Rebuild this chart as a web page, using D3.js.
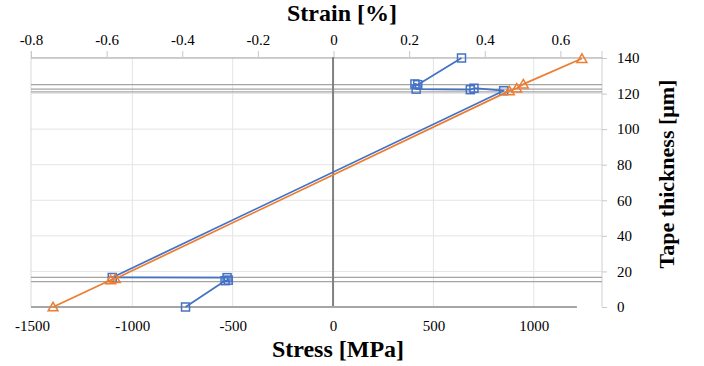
<!DOCTYPE html>
<html lang="en">
<head>
    <meta charset="utf-8">
    <title>Stress / strain through tape thickness</title>
    <script src="https://d3js.org/d3.v7.min.js"></script>
    <style>
        body { margin: 0; background: #fff; }
        svg text { font-family: 'Liberation Serif', 'Times New Roman', Times, 'DejaVu Serif', serif; fill: #000; }
    </style>
</head>
<body>
<div id="chart"></div>
<script>
    const serif = "'Liberation Serif', 'Times New Roman', Times, 'DejaVu Serif', serif";

    // tick values
    const stressTicks = [-1500, -1000, -500, 0, 500, 1000];
    const strainTicks = [-0.8, -0.6, -0.4, -0.2, 0, 0.2, 0.4, 0.6];
    const thickTicks = [0, 20, 40, 60, 80, 100, 120, 140];

    // layer interfaces (um)
    const interfaces = [140, 125, 122.5, 121, 16.7, 14.3];

    // series 1 (blue squares): stress [MPa] vs thickness [um]
    const blueStress = [640, 422, 408, 414, 684, 702, 850, -1100, -528, -522, -538, -735];
    const blueThick  = [140, 125, 125.4, 122.5, 122.2, 123, 121.6, 16.6, 16.5, 15.1, 14.8, 0];

    // series 2 (orange triangles)
    const orangeStress = [1240, 948, 915, 878, -1085, -1108, -1395];
    const orangeThick  = [139.7, 125.3, 123, 121.5, 15.9, 15.2, 0];

    const width = 704, height = 366;
    const pLeft = 31, pRight = 602, pTop = 57, pBottom = 307;

    const svg = d3.select('#chart').append('svg')
        .attr('width', width).attr('height', height);

    const x = d3.scaleLinear().domain([-1500, 1345]).range([32, 603]);
    const xs = d3.scaleLinear().domain([-0.8, 0.71]).range([pLeft, pRight]);
    const y = d3.scaleLinear().domain([0, 140]).range([pBottom, 58]);

    const blue = blueStress.map((s, i) => [s, blueThick[i]]);
    const orange = orangeStress.map((s, i) => [s, orangeThick[i]]);

    // gridlines
    const grid = svg.append('g');
    grid.selectAll('line.hg')
        .data(thickTicks.filter(t => t > 0 && t < 140))
        .join('line')
        .attr('x1', pLeft).attr('x2', pRight)
        .attr('y1', d => y(d)).attr('y2', d => y(d))
        .attr('stroke', '#e4e4e4').attr('stroke-width', 1);
    grid.selectAll('line.vg')
        .data(stressTicks.filter(t => t !== 0 && t !== -1500))
        .join('line')
        .attr('x1', d => x(d)).attr('x2', d => x(d))
        .attr('y1', pTop).attr('y2', pBottom)
        .attr('stroke', '#e4e4e4').attr('stroke-width', 1);

    // plot borders
    grid.append('line').attr('x1', pLeft).attr('x2', pLeft).attr('y1', 51).attr('y2', pBottom)
        .attr('stroke', '#d9d9d9');
    grid.append('line').attr('x1', pRight).attr('x2', pRight).attr('y1', 51).attr('y2', pBottom)
        .attr('stroke', '#d0d0d0');

    // interface lines
    const ifaces = svg.append('g');
    ifaces.selectAll('line')
        .data(interfaces)
        .join('line')
        .attr('x1', pLeft).attr('x2', pRight)
        .attr('y1', d => y(d)).attr('y2', d => y(d))
        .attr('stroke', '#a4a4a4').attr('stroke-width', 1.2);

    // top (strain) axis
    const topAxis = svg.append('g')
        .attr('transform', `translate(0,${pTop})`)
        .call(d3.axisTop(xs).tickValues(strainTicks).tickSize(6).tickSizeOuter(0)
            .tickFormat(d => d === 0 ? '0' : d3.format('.1f')(d).replace('−', '-')));
    topAxis.select('.domain').attr('stroke', '#c8c8c8');
    topAxis.selectAll('.tick line').attr('stroke', '#c8c8c8');
    topAxis.selectAll('.tick text').attr('y', -12);

    // zero stress axis
    svg.append('line')
        .attr('x1', x(0)).attr('x2', x(0)).attr('y1', pTop).attr('y2', pBottom)
        .attr('stroke', '#808080').attr('stroke-width', 2);

    // bottom (stress) axis
    const botAxis = svg.append('g')
        .attr('transform', `translate(0,${pBottom})`)
        .call(d3.axisBottom(x).tickValues(stressTicks).tickSize(0)
            .tickFormat(d => String(d)));
    botAxis.select('.domain').remove();
    botAxis.selectAll('.tick text').attr('y', 13);
    svg.append('line')
        .attr('x1', pLeft).attr('x2', x(1215)).attr('y1', pBottom).attr('y2', pBottom)
        .attr('stroke', '#a6a6a6').attr('stroke-width', 2);

    // right (thickness) axis
    const rAxis = svg.append('g')
        .attr('transform', `translate(${pRight},0)`)
        .call(d3.axisRight(y).tickValues(thickTicks).tickSize(5).tickSizeOuter(0));
    rAxis.select('.domain').remove();
    rAxis.selectAll('.tick line').attr('stroke', '#c8c8c8');
    rAxis.selectAll('.tick text').attr('x', 15).attr('text-anchor', 'start');

    [topAxis, botAxis, rAxis].forEach(g => {
        g.attr('font-family', serif).attr('font-size', 15);
        g.selectAll('.tick text').attr('font-family', serif).attr('font-size', 15).attr('fill', '#000');
    });

    // series
    const line = d3.line().x(d => x(d[0])).y(d => y(d[1]));

    svg.append('path').datum(blue)
        .attr('fill', 'none').attr('stroke', '#4472C4').attr('stroke-width', 1.75)
        .attr('stroke-linejoin', 'round').attr('d', line);
    svg.append('g').selectAll('rect')
        .data(blue).join('rect')
        .attr('x', d => x(d[0]) - 4).attr('y', d => y(d[1]) - 4)
        .attr('width', 8).attr('height', 8)
        .attr('fill', 'none').attr('stroke', '#4472C4').attr('stroke-width', 1.5);

    svg.append('path').datum(orange)
        .attr('fill', 'none').attr('stroke', '#ED7D31').attr('stroke-width', 1.75)
        .attr('stroke-linejoin', 'round').attr('d', line);
    const tri = d3.symbol().type(d3.symbolTriangle).size(42);
    svg.append('g').selectAll('path')
        .data(orange).join('path')
        .attr('transform', d => `translate(${x(d[0])},${y(d[1]) + 1})`)
        .attr('d', tri)
        .attr('fill', 'none').attr('stroke', '#ED7D31').attr('stroke-width', 1.5);

    // titles
    const title = (t, size) => t.attr('font-family', serif).attr('font-size', size)
        .attr('font-weight', 'bold').attr('text-anchor', 'middle');
    svg.append('text').attr('x', 342).attr('y', 21).call(title, 24).text('Strain [%]');
    svg.append('text').attr('x', 338).attr('y', 357).call(title, 24).text('Stress [MPa]');
    svg.append('text').attr('transform', 'translate(674,174) rotate(-90)')
        .call(title, 22).text('Tape thickness [μm]');
</script>
</body>
</html>
